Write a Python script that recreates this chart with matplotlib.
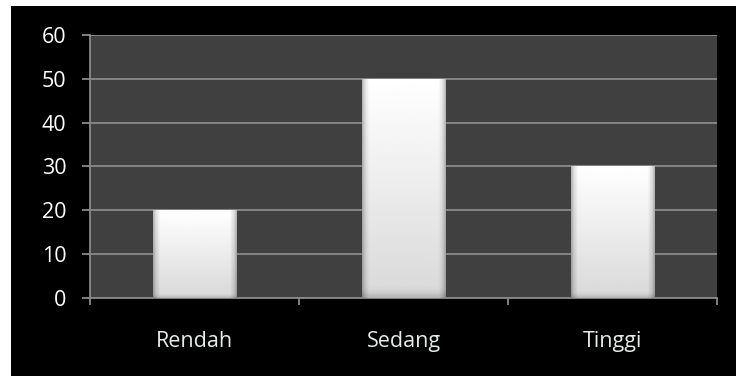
import numpy as np
import matplotlib
matplotlib.use("Agg")
import matplotlib.pyplot as plt
from matplotlib.patches import Rectangle

categories = ["Rendah", "Sedang", "Tinggi"]
values = [20, 50, 30]
yticks = [0, 10, 20, 30, 40, 50, 60]

plt.rcParams['font.family'] = ['Open Sans', 'DejaVu Sans']

W, H = 736, 376
fig = plt.figure(figsize=(W / 100, H / 100), dpi=100, facecolor="white")
fig.patches.append(Rectangle((11 / W, 0), (W - 11) / W, (H - 6) / H,
                             transform=fig.transFigure, facecolor="black",
                             edgecolor="none", zorder=-10))

ax = fig.add_axes([90 / W, 1 - 298 / H, (717 - 90) / W, (298 - 35) / H])
ax.set_zorder(5)
ax.set_facecolor("#404040")
x = np.arange(len(categories))
bars = ax.bar(x, values, width=0.4, color="white", edgecolor="none", zorder=3)

# bevelled gradient fill for each bar
nx, ny = 64, 64
u = np.linspace(0, 1, nx)
v = np.linspace(0, 1, ny)
edge = np.minimum(u, 1 - u)
hshade = np.clip(edge / 0.08, 0, 1) ** 0.6
vshade = 1 - 0.15 * (1 - v)  # darker toward bottom (v=0 bottom)
img = np.outer(vshade, 0.72 + 0.28 * hshade)
bot = np.clip(v / 0.04, 0, 1) ** 0.6
img = img * (0.85 + 0.15 * bot[:, None])
img = np.clip(img, 0, 1)
for b in bars:
    x0, w, h = b.get_x(), b.get_width(), b.get_height()
    im = ax.imshow(img, cmap="gray", vmin=0, vmax=1, origin="lower",
                   extent=[x0, x0 + w, 0, h], aspect="auto", zorder=4,
                   interpolation="bilinear")
    im.set_clip_path(b)

ax.set_xlim(-0.5, len(categories) - 0.5)
ax.set_ylim(0, 60)
ax.set_yticks(yticks)
ax.set_xticks(x)
ax.set_xticklabels(categories)
ax.set_xticks([-0.5, 0.5, 1.5, 2.5], minor=True)
ax.yaxis.grid(True, color="#8a8a8a", linewidth=1.3, zorder=1)
ax.set_axisbelow(True)
for s in ["top", "right"]:
    ax.spines[s].set_visible(False)
for s in ["left", "bottom"]:
    ax.spines[s].set_color("#8a8a8a")
    ax.spines[s].set_linewidth(1.3)
ax.tick_params(axis="y", colors="#8a8a8a", labelcolor="white", length=6,
               width=1.3, pad=11, labelsize=15.5)
ax.tick_params(axis="x", which="major", length=0, pad=24, labelcolor="#e6ece8",
               labelsize=15.5)
ax.tick_params(axis="x", which="minor", length=5, width=1.3, colors="#8a8a8a")

fig.savefig("out.png", dpi=100, facecolor="white")
